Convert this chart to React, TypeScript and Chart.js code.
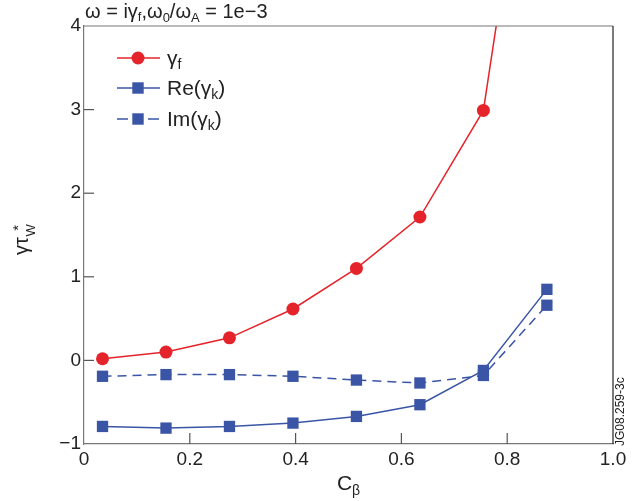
import React, { useEffect, useRef } from "react";
import { Chart, registerables } from "chart.js";

Chart.register(...registerables);

const cBeta = [0.035, 0.155, 0.275, 0.395, 0.515, 0.635, 0.755, 0.875];
const gammaF = [0.02, 0.1, 0.27, 0.615, 1.1, 1.715, 2.99, 8.0];
const reGammaK = [-0.79, -0.81, -0.79, -0.75, -0.67, -0.53, -0.12, 0.85];
const imGammaK = [-0.19, -0.17, -0.17, -0.19, -0.235, -0.27, -0.18, 0.66];
const xTicks = [0, 0.2, 0.4, 0.6, 0.8, 1.0];
const yTicks = [-1, 0, 1, 2, 3, 4];

const RED = "#e5232a";
const BLUE = "#3a55a5";
const FONT = "'Liberation Sans', Arial, Helvetica, sans-serif";

type Part = { t: string; size: number; dy?: number };

function drawRich(ctx: CanvasRenderingContext2D, parts: Part[], x: number, y: number) {
  let cx = x;
  for (const p of parts) {
    ctx.font = `${p.size}px ${FONT}`;
    ctx.fillText(p.t, cx, y + (p.dy || 0));
    cx += ctx.measureText(p.t).width;
  }
  return cx;
}

function richWidth(ctx: CanvasRenderingContext2D, parts: Part[]) {
  let w = 0;
  for (const p of parts) {
    ctx.font = `${p.size}px ${FONT}`;
    w += ctx.measureText(p.t).width;
  }
  return w;
}

const decorPlugin = {
  id: "decor",
  afterDraw(chart: any) {
    const ctx: CanvasRenderingContext2D = chart.ctx;
    const area = chart.chartArea;
    const xs = chart.scales.x;
    const ys = chart.scales.y;
    ctx.save();
    // top and right frame
    ctx.lineWidth = 1.2;
    ctx.strokeStyle = "#777";
    ctx.beginPath();
    ctx.moveTo(area.left, area.top);
    ctx.lineTo(area.right, area.top);
    ctx.stroke();
    ctx.strokeStyle = "#222";
    ctx.beginPath();
    ctx.moveTo(area.right, area.top);
    ctx.lineTo(area.right, area.bottom);
    ctx.stroke();
    // inward ticks
    ctx.strokeStyle = "#555";
    ctx.lineWidth = 1.2;
    ys.ticks.forEach((t: any) => {
      if (t.value <= ys.min || t.value >= ys.max) return;
      const py = ys.getPixelForValue(t.value);
      ctx.beginPath();
      ctx.moveTo(area.left, py);
      ctx.lineTo(area.left + 10, py);
      ctx.stroke();
    });
    xs.ticks.forEach((t: any) => {
      if (t.value <= xs.min || t.value >= xs.max) return;
      const px = xs.getPixelForValue(t.value);
      ctx.beginPath();
      ctx.moveTo(px, area.bottom);
      ctx.lineTo(px, area.bottom - 11);
      ctx.stroke();
    });

    ctx.fillStyle = "#222";
    ctx.textBaseline = "alphabetic";
    ctx.textAlign = "left";
    // title
    drawRich(
      ctx,
      [
        { t: "ω = iγ", size: 20 },
        { t: "f", size: 13, dy: 3 },
        { t: ",ω", size: 20 },
        { t: "0", size: 13, dy: 4 },
        { t: "/ω", size: 20 },
        { t: "A", size: 13, dy: 4 },
        { t: " = 1e−3", size: 20 },
      ],
      85,
      18
    );

    // x-axis title
    const xParts: Part[] = [
      { t: "C", size: 21 },
      { t: "β", size: 14, dy: 5 },
    ];
    const xw = richWidth(ctx, xParts);
    drawRich(ctx, xParts, (area.left + area.right) / 2 - xw / 2, 490);

    // y-axis title (rotated)
    ctx.save();
    ctx.translate(28, 255);
    ctx.rotate(-Math.PI / 2);
    ctx.font = `20px ${FONT}`;
    const base = "γτ";
    ctx.fillText(base, 0, 0);
    const bw = ctx.measureText(base).width;
    ctx.font = `13px ${FONT}`;
    ctx.fillText("W", bw + 0.5, 7);
    const ww = ctx.measureText("W").width;
    ctx.font = `15px ${FONT}`;
    const sw = ctx.measureText("*").width;
    ctx.fillText("*", bw + ww - sw, -5);
    ctx.restore();

    // side code label
    ctx.save();
    ctx.translate(624, 446);
    ctx.rotate(-Math.PI / 2);
    ctx.font = `12px ${FONT}`;
    ctx.fillText("JG08.259-3c", 0, 0);
    ctx.restore();

    // legend
    const rows = [
      { y: 58, color: RED, dash: false, marker: "circle", parts: [{ t: "γ", size: 21 }, { t: "f", size: 14, dy: 4 }] },
      {
        y: 88,
        color: BLUE,
        dash: false,
        marker: "rect",
        parts: [{ t: "Re(γ", size: 21 }, { t: "k", size: 14, dy: 4 }, { t: ")", size: 21 }],
      },
      {
        y: 119,
        color: BLUE,
        dash: true,
        marker: "rect",
        parts: [{ t: "Im(γ", size: 21 }, { t: "k", size: 14, dy: 4 }, { t: ")", size: 21 }],
      },
    ];
    rows.forEach((r) => {
      ctx.strokeStyle = r.color;
      ctx.lineWidth = 1.5;
      ctx.beginPath();
      if (r.dash) {
        ctx.moveTo(117, r.y);
        ctx.lineTo(128, r.y);
        ctx.moveTo(148, r.y);
        ctx.lineTo(159, r.y);
      } else {
        ctx.moveTo(117, r.y);
        ctx.lineTo(160, r.y);
      }
      ctx.stroke();
      ctx.fillStyle = r.color;
      if (r.marker === "circle") {
        ctx.beginPath();
        ctx.arc(138, r.y, 6.5, 0, Math.PI * 2);
        ctx.fill();
      } else {
        ctx.fillRect(138 - 5.7, r.y - 5.7, 11.4, 11.4);
      }
      ctx.fillStyle = "#222";
      drawRich(ctx, r.parts as Part[], 167, r.y + 7);
    });
    ctx.restore();
  },
};

export default function App() {
  const ref = useRef<HTMLCanvasElement | null>(null);
  useEffect(() => {
    if (!ref.current) return;
    const chart = new Chart(ref.current, {
      type: "line",
      data: {
        datasets: [
          {
            label: "γf",
            data: cBeta.map((x, i) => ({ x, y: gammaF[i] })),
            borderColor: RED,
            backgroundColor: RED,
            borderWidth: 1.5,
            pointStyle: "circle",
            pointRadius: 6.5,
            pointBorderWidth: 0,
            tension: 0,
          },
          {
            label: "Re(γk)",
            data: cBeta.map((x, i) => ({ x, y: reGammaK[i] })),
            borderColor: BLUE,
            backgroundColor: BLUE,
            borderWidth: 1.5,
            pointStyle: "rect",
            pointRadius: 8,
            pointBorderWidth: 0,
            tension: 0,
          },
          {
            label: "Im(γk)",
            data: cBeta.map((x, i) => ({ x, y: imGammaK[i] })),
            borderColor: BLUE,
            backgroundColor: BLUE,
            borderWidth: 1.5,
            borderDash: [9, 6],
            pointStyle: "rect",
            pointRadius: 8,
            pointBorderWidth: 0,
            tension: 0,
          },
        ],
      },
      options: {
        responsive: false,
        animation: false,
        layout: { padding: { left: 0, right: 28, top: 26, bottom: 0 } },
        plugins: { legend: { display: false }, tooltip: { enabled: false }, title: { display: false } },
        scales: {
          x: {
            type: "linear",
            min: 0,
            max: 1,
            afterBuildTicks: (s: any) => {
              s.ticks = xTicks.map((v) => ({ value: v }));
            },
            afterFit: (s: any) => {
              s.height = 57;
            },
            grid: { display: true, drawOnChartArea: false, drawTicks: false },
            border: { display: true, color: "#777", width: 1.2 },
            ticks: {
              padding: 4,
              color: "#222",
              font: { family: FONT, size: 19 },
              maxRotation: 0,
              callback: (v: any) => (Number(v) === 0 ? "0" : Number(v).toFixed(1)),
            },
          },
          y: {
            type: "linear",
            min: -1,
            max: 4,
            afterBuildTicks: (s: any) => {
              s.ticks = yTicks.map((v) => ({ value: v }));
            },
            afterFit: (s: any) => {
              s.width = 84;
            },
            grid: { display: true, drawOnChartArea: false, drawTicks: false },
            border: { display: true, color: "#777", width: 1.2 },
            ticks: {
              padding: 3,
              color: "#222",
              font: { family: FONT, size: 19 },
              callback: (v: any) => (Number(v) < 0 ? "−" + Math.abs(Number(v)) : String(v)),
            },
          },
        },
      },
      plugins: [decorPlugin],
    } as any);
    return () => chart.destroy();
  }, []);
  return (
    <div style={{ position: "fixed", left: 0, top: 0, width: 641, height: 501, background: "#fff" }}>
      <canvas ref={ref} width={641} height={501} style={{ width: 641, height: 501 }} />
    </div>
  );
}
